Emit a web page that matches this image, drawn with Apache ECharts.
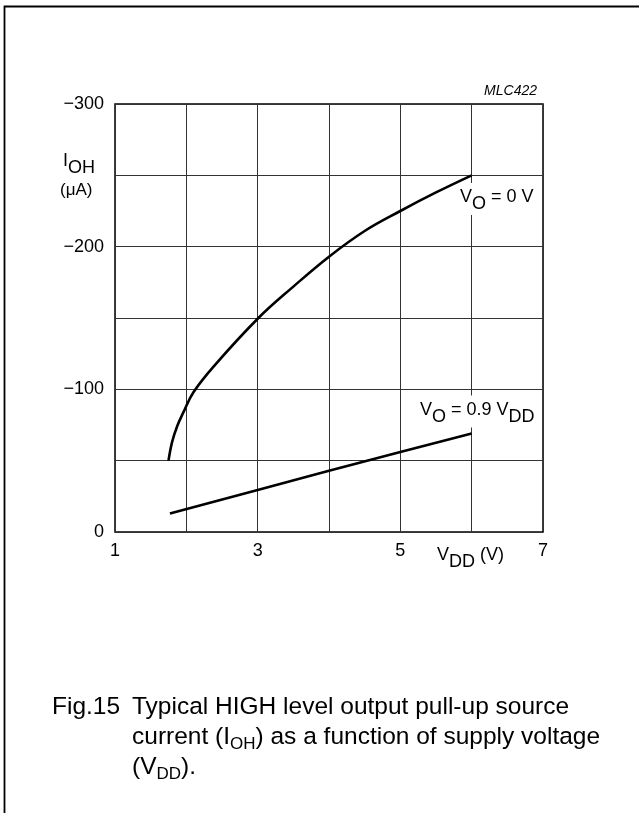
<!DOCTYPE html>
<html>
<head>
<meta charset="utf-8">
<script src="https://cdn.jsdelivr.net/npm/echarts@6/dist/echarts.min.js"></script>
<style>
  html, body { margin: 0; padding: 0; background: #fff; }
  #chart { width: 639px; height: 813px; }
</style>
</head>
<body>
<div id="chart"></div>
<script>
// ---- data ----
// Curve "VO = 0 V"
const vddZero = [1.75, 1.8, 1.87, 1.96, 2.1, 2.4, 3.0, 3.5, 4.0, 4.5, 5.0, 5.5, 6.0];
const iohZero = [-50, -63, -74, -84, -98, -117, -149.5, -172, -193, -211, -225, -238, -250];
// Curve "VO = 0.9 VDD"
const vddNine = [1.77, 3.0, 4.0, 5.0, 6.0];
const iohNine = [-13, -29.5, -43, -56, -69];
// Tick labels
const xTickValues = [1, 3, 5, 7];
const xTickLabels = ['1', '3', '5', '7'];
const yTickValues = [-300, -200, -100, 0];
const yTickLabels = ['\u2212300', '\u2212200', '\u2212100', '0'];

const FF = '"Liberation Sans", Arial, Helvetica, sans-serif';
const f = (s, it) => (it ? 'italic ' : '') + s + 'px ' + FF;

const zip = (xs, ys) => xs.map((x, i) => [x, ys[i]]);

const chart = echarts.init(document.getElementById('chart'), null, { renderer: 'canvas' });

const lab18 = {
  n: { font: f(18), fill: '#000', lineHeight: 26 },
  s: { font: f(18), fill: '#000', lineHeight: 26, padding: [14, 0, 0, 0] }
};
const cap = {
  n: { font: f(24.5), fill: '#000', lineHeight: 30 },
  s: { font: f(17), fill: '#000', lineHeight: 30, padding: [15, 0, 0, 0] }
};

function txt(x, y, text, rich, opts, z) {
  return {
    type: 'text', x: x, y: y, z: z == null ? 1 : z,
    style: Object.assign({
      text: text, rich: rich, fill: '#000',
      align: 'left', textAlign: 'left',
      verticalAlign: 'top', textVerticalAlign: 'top'
    }, opts || {})
  };
}

const option = {
  backgroundColor: '#fff',
  animation: false,
  grid: {
    left: 115, top: 104, right: 96, bottom: 281,
    show: true, borderColor: '#000', borderWidth: 1.5, backgroundColor: 'transparent'
  },
  xAxis: {
    type: 'value', min: 1, max: 7, interval: 1,
    axisLine: { show: false }, axisTick: { show: false },
    splitLine: { show: true, lineStyle: { color: '#333', width: 1 } },
    axisLabel: {
      margin: 10, fontSize: 18, fontFamily: FF, color: '#000',
      showMinLabel: true, showMaxLabel: true, hideOverlap: false,
      formatter: v => { const i = xTickValues.indexOf(v); return i >= 0 ? xTickLabels[i] : ''; }
    }
  },
  yAxis: {
    type: 'value', min: -300, max: 0, interval: 50, inverse: true,
    axisLine: { show: false }, axisTick: { show: false },
    splitLine: { show: true, lineStyle: { color: '#333', width: 1 } },
    axisLabel: {
      margin: 11, fontSize: 18, fontFamily: FF, color: '#000',
      showMinLabel: true, showMaxLabel: true, hideOverlap: false,
      formatter: v => { const i = yTickValues.indexOf(v); return i >= 0 ? yTickLabels[i] : ''; }
    }
  },
  series: [
    {
      type: 'line', name: 'VO = 0 V', data: zip(vddZero, iohZero),
      showSymbol: false, symbol: 'none', smooth: 0.4,
      lineStyle: { color: '#000', width: 2.6 }, z: 2
    },
    {
      type: 'line', name: 'VO = 0.9 VDD', data: zip(vddNine, iohNine),
      showSymbol: false, symbol: 'none', smooth: false,
      lineStyle: { color: '#000', width: 2.6 }, z: 2
    }
  ],
  graphic: [
    { type: 'polyline', z: 5, shape: { points: [[4.5, 813], [4.5, 6.5], [639, 6.5]] },
      style: { stroke: '#000', lineWidth: 1.8, fill: null } },
    txt(537, 84, 'MLC422', null, { font: f(14, true), align: 'right', textAlign: 'right' }),
    txt(63, 148, '{n|I}{s|OH}', lab18),
    txt(60, 178, '(\u03bcA)', null, { font: f(17), lineHeight: 25 }),
    txt(457, 183, '{n|V}{s|O}{n| = 0 V}', lab18, { backgroundColor: '#fff', padding: [1, 3, 5, 3] }),
    txt(417, 395.6, '{n|V}{s|O}{n| = 0.9 V}{s|DD}', lab18, { backgroundColor: '#fff', padding: [1, 3, 5, 3] }),
    txt(437, 541.6, '{n|V}{s|DD}{n| (V)}', lab18),
    txt(52, 692, '{n|Fig.15}', cap),
    txt(132, 692, '{n|Typical HIGH level output pull-up source}\n{n|current (I}{s|OH}{n|) as a function of supply voltage}\n{n|(V}{s|DD}{n|).}', cap)
  ]
};

chart.setOption(option);
</script>
</body>
</html>
